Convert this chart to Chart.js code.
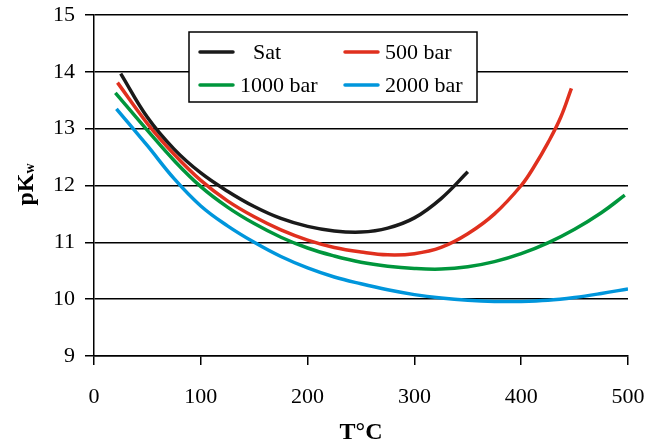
<!DOCTYPE html>
<html>
<head>
<meta charset="utf-8">
<script src="https://cdn.jsdelivr.net/npm/chart.js@4"></script>
<style>
  html, body { margin: 0; padding: 0; background: #fff; }
  #wrap { width: 648px; height: 442px; overflow: hidden; }
</style>
</head>
<body>
<div id="wrap"><canvas id="pkwChart" width="648" height="442"></canvas></div>
<script>
  // temperatures (°C) and pKw
  const satT = [25, 50, 75, 100, 125, 150, 175, 200, 225, 250, 275, 300, 325, 350];
  const satPK = [13.97, 13.20, 12.64, 12.22, 11.90, 11.63, 11.42, 11.28, 11.20, 11.18, 11.25, 11.43, 11.77, 12.24];

  const bar500T = [22, 50, 75, 100, 125, 150, 175, 200, 225, 250, 275, 300, 325, 350, 375, 400, 412, 425, 437, 447];
  const bar500PK = [13.81, 13.09, 12.55, 12.09, 11.73, 11.45, 11.22, 11.04, 10.91, 10.83, 10.78, 10.80, 10.91, 11.15, 11.50, 12.00, 12.33, 12.75, 13.20, 13.71];

  const bar1000T = [20, 50, 75, 100, 125, 150, 175, 200, 225, 250, 275, 300, 325, 350, 375, 400, 425, 450, 475, 497];
  const bar1000PK = [13.63, 12.97, 12.44, 11.98, 11.62, 11.33, 11.09, 10.90, 10.76, 10.65, 10.58, 10.54, 10.53, 10.57, 10.66, 10.80, 10.99, 11.23, 11.52, 11.83];

  const bar2000T = [21, 50, 75, 100, 125, 150, 175, 200, 225, 250, 275, 300, 325, 350, 375, 400, 425, 450, 475, 500];
  const bar2000PK = [13.35, 12.70, 12.12, 11.64, 11.29, 11.00, 10.75, 10.55, 10.39, 10.27, 10.165, 10.08, 10.02, 9.98, 9.96, 9.96, 9.98, 10.03, 10.10, 10.18];

  const seriesLabels = ["Sat", "500 bar", "1000 bar", "2000 bar"];
  const seriesColors = ["#1a1a1a", "#e0301e", "#00963c", "#0096dc"];

  const xTicks = [0, 100, 200, 300, 400, 500];
  const yTicks = [9, 10, 11, 12, 13, 14, 15];

  const pairs = (xs, ys) => xs.map((x, i) => ({ x: x, y: ys[i] }));
  const allSeries = [pairs(satT, satPK), pairs(bar500T, bar500PK), pairs(bar1000T, bar1000PK), pairs(bar2000T, bar2000PK)];

  const serif = "'Liberation Serif', 'Times New Roman', serif";

  // legend box drawn inside the plot (slot offsets from box corner)
  const legendBox = { left: 189, top: 32, width: 288, height: 70 };
  const legendSlots = [
    { lx: 11, ly: 20, tx: 64 },
    { lx: 156, ly: 20, tx: 196 },
    { lx: 11, ly: 53, tx: 51 },
    { lx: 156, ly: 53, tx: 196 },
  ];

  const boxLegend = {
    id: "boxLegend",
    afterDraw(chart) {
      const ctx = chart.ctx;
      const b = legendBox;
      ctx.save();
      ctx.fillStyle = "#fff";
      ctx.fillRect(b.left, b.top, b.width, b.height);
      ctx.strokeStyle = "#000";
      ctx.lineWidth = 1.5;
      ctx.strokeRect(b.left, b.top, b.width, b.height);
      ctx.font = "22px " + serif;
      ctx.textBaseline = "middle";
      ctx.textAlign = "left";
      chart.data.datasets.forEach((ds, i) => {
        const s = legendSlots[i];
        ctx.strokeStyle = ds.borderColor;
        ctx.lineWidth = 3.5;
        ctx.lineCap = "round";
        ctx.beginPath();
        ctx.moveTo(b.left + s.lx, b.top + s.ly);
        ctx.lineTo(b.left + s.lx + 33, b.top + s.ly);
        ctx.stroke();
        ctx.fillStyle = "#000";
        ctx.fillText(ds.label, b.left + s.tx, b.top + s.ly + 1);
      });
      ctx.restore();
    },
  };

  // rotated y title with subscript w
  const yTitle = {
    id: "yTitle",
    afterDraw(chart) {
      const ctx = chart.ctx;
      const cy = (chart.chartArea.top + chart.chartArea.bottom) / 2;
      ctx.save();
      ctx.translate(33, cy - 1);
      ctx.rotate(-Math.PI / 2);
      ctx.fillStyle = "#000";
      ctx.textBaseline = "alphabetic";
      ctx.textAlign = "left";
      ctx.font = "bold 24px " + serif;
      const main = "pK";
      const w1 = ctx.measureText(main).width;
      ctx.font = "bold 14px " + serif;
      const w2 = ctx.measureText("w").width;
      const start = -(w1 + w2) / 2;
      ctx.font = "bold 24px " + serif;
      ctx.fillText(main, start, 0);
      ctx.font = "bold 14px " + serif;
      ctx.fillText("w", start + w1, 1);
      ctx.restore();
    },
  };

  new Chart(document.getElementById("pkwChart"), {
    type: "line",
    data: {
      datasets: allSeries.map((pts, i) => ({
        label: seriesLabels[i],
        data: pts,
        borderColor: seriesColors[i],
        backgroundColor: seriesColors[i],
        borderWidth: 3.5,
        pointRadius: 0,
        tension: 0.4,
        fill: false,
      })),
    },
    options: {
      responsive: false,
      animation: false,
      devicePixelRatio: 1,
      layout: { padding: { top: 15, right: 20, bottom: 0, left: 0 } },
      plugins: { legend: { display: false }, tooltip: { enabled: false } },
      scales: {
        x: {
          type: "linear",
          min: xTicks[0],
          max: xTicks[xTicks.length - 1],
          afterBuildTicks: (s) => { s.ticks = xTicks.map((v) => ({ value: v })); },
          afterFit: (s) => { s.height = 86; s.paddingLeft = 0; s.paddingRight = 0; },
          ticks: { color: "#000", padding: 19, font: { family: serif, size: 22 } },
          grid: { drawOnChartArea: false, drawTicks: true, tickLength: 9, color: "#000", lineWidth: 1.5 },
          border: { color: "#000", width: 1.5 },
          title: {
            display: true,
            text: "T°C",
            color: "#000",
            padding: 0,
            font: { family: serif, size: 24, weight: "bold", lineHeight: 0.75 },
          },
        },
        y: {
          min: yTicks[0],
          max: yTicks[yTicks.length - 1],
          afterBuildTicks: (s) => { s.ticks = yTicks.map((v) => ({ value: v })); },
          afterFit: (s) => { s.width = 94; s.paddingTop = 0; s.paddingBottom = 0; },
          ticks: { color: "#000", padding: 10, font: { family: serif, size: 22 } },
          grid: { color: "#000", lineWidth: 1.5, tickLength: 9 },
          border: { color: "#000", width: 1.5 },
        },
      },
    },
    plugins: [yTitle, boxLegend],
  });
</script>
</body>
</html>
